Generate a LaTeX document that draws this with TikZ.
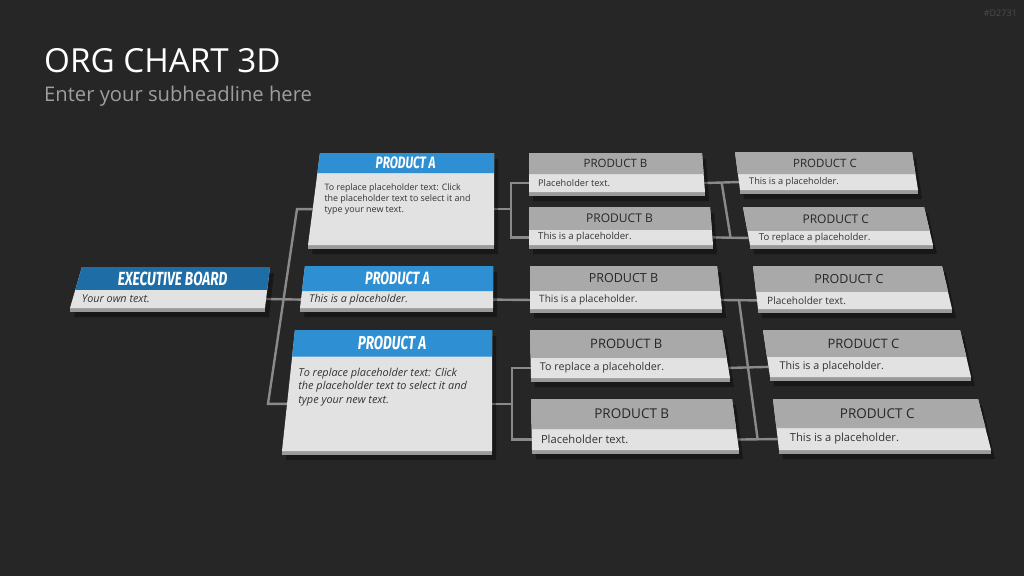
\documentclass[tikz,border=0pt]{standalone}
\usepackage{fontspec}
\setmainfont{Open Sans}
\newfontfamily\headfont[FakeStretch=0.72]{Fira Sans}
\usetikzlibrary{calc,positioning}

\definecolor{bgdark}{HTML}{262626}
\definecolor{execblue}{HTML}{1F6DA6}
\definecolor{prodblue}{HTML}{2E8FD2}
\definecolor{headgray}{HTML}{A9A9A9}
\definecolor{bodygray}{HTML}{E2E2E2}
\definecolor{sidegray}{HTML}{9A9A9A}
\definecolor{linkgray}{HTML}{8A8A8A}
\definecolor{textdark}{HTML}{333333}

% corner points of one card: name, top left, top right, bottom right, bottom left, header share
\newcommand{\orgcard}[6]{%
  \coordinate (#1-tl) at #2;
  \coordinate (#1-tr) at #3;
  \coordinate (#1-br) at #4;
  \coordinate (#1-bl) at #5;
  \coordinate (#1-hl) at ($(#1-tl)!#6!(#1-bl)$);
  \coordinate (#1-hr) at ($(#1-tr)!#6!(#1-br)$);
  \coordinate (#1-w) at ($(#1-hl)!.5!(#1-bl)$);
  \coordinate (#1-e) at ($(#1-hr)!.5!(#1-br)$);
}
% the card itself: name, header colour
\newcommand{\drawcard}[2]{%
  \fill[cardshadow] ($(#1-tl)+(4,6)$) -- ($(#1-tr)+(4,6)$) -- ($(#1-br)+(4,9)$) -- ($(#1-bl)+(4,9)$) -- cycle;
  \fill[sidegray] (#1-bl) -- (#1-br) -- ($(#1-br)+(0,3.5)$) -- ($(#1-bl)+(0,3.5)$) -- cycle;
  \fill[bodygray] (#1-tl) -- (#1-tr) -- (#1-br) -- (#1-bl) -- cycle;
  \fill[#2] (#1-tl) -- (#1-tr) -- (#1-hr) -- (#1-hl) -- cycle;
}

\tikzset{
  link/.style={draw=linkgray, line width=2.4pt},
  cardshadow/.style={fill=black, opacity=0.35},
  headtxt/.style={text=white, inner sep=0, font=\headfont\bfseries\itshape\fontsize{#1}{#1}\selectfont},
  prodtxt/.style={text=black!85, inner sep=0, font=\fontsize{#1}{#1}\selectfont},
  bodytxt/.style={text=textdark, inner sep=0, anchor=west, font=\fontsize{#1}{#1}\selectfont},
  notetxt/.style 2 args={text=textdark, inner sep=0, anchor=north west, align=left, font=\fontsize{#1}{#2}\selectfont},
}

\begin{document}
\begin{tikzpicture}[x=1pt, y=-1pt]
  % Background
  \fill[bgdark] (0,0) rectangle (1024,576);
  \useasboundingbox (0,0) rectangle (1024,576);

  % Headline
  \node[anchor=base west, inner sep=0, text=white, font=\fontsize{33.2}{35}\selectfont] (title) at (44,72) {ORG CHART 3D};
  \node[anchor=base west, inner sep=0, text=white!62!black, font=\fontsize{20.2}{22}\selectfont] (subtitle) at (44,101) {Enter your subheadline here};
  \node[anchor=east, inner sep=0, text=white!30!black, font=\fontsize{9}{9}\selectfont] (code) at (1017,13) {\#D2731};

  % Card corners
  \orgcard{ex}{(82,267)}{(270,267)}{(265,308)}{(70,308)}{0.56}
  \orgcard{a1}{(320,153)}{(494,153)}{(494,245)}{(308,245)}{0.22}
  \orgcard{a2}{(305,266)}{(493,266)}{(493,308)}{(300,308)}{0.6}
  \orgcard{a3}{(295,330)}{(492,330)}{(492,451)}{(282,451)}{0.22}
  \orgcard{b1}{(529,153)}{(702,153)}{(705,192)}{(529,192)}{0.54}
  \orgcard{b2}{(529,207)}{(710,207)}{(713,245)}{(529,245)}{0.6}
  \orgcard{b3}{(530,266)}{(717,266)}{(722,309)}{(530,309)}{0.58}
  \orgcard{b4}{(530,330)}{(722,330)}{(730,378)}{(531,378)}{0.58}
  \orgcard{b5}{(531,399)}{(732,399)}{(739,450)}{(532,450)}{0.59}
  \orgcard{c1}{(735,152)}{(912,152)}{(918,190)}{(740,190)}{0.58}
  \orgcard{c2}{(743,207)}{(924,207)}{(933,245)}{(750,245)}{0.63}
  \orgcard{c3}{(753,266)}{(942,266)}{(952,309)}{(758,309)}{0.6}
  \orgcard{c4}{(763,330)}{(960,330)}{(971,377)}{(770,377)}{0.57}
  \orgcard{c5}{(773,399)}{(978,399)}{(991,450)}{(779,450)}{0.57}

  % Connectors
  \coordinate (tA-top) at (297,209);
  \coordinate (tA-bot) at (268,403);
  \draw[link] (a1-w) -- (a1-w -| tA-top) -- (a3-w -| tA-bot) -- (a3-w);
  \draw[link] (ex-e) -- (a2-w);
  \draw[link] (b1-w) -- ++(-18,0) coordinate (tB1) -- (tB1 |- b2-w) -- (b2-w);
  \draw[link] (a1-e) -- (a1-e -| tB1);
  \draw[link] (a2-e) -- (b3-w);
  \draw[link] (b4-w) -- ++(-19,0) coordinate (tB3) -- (tB3 |- b5-w) -- (b5-w);
  \draw[link] (a3-e) -- (a3-e -| tB3);
  \draw[link] (b1-e) -- (c1-w);
  \draw[link] (b2-e) -- (c2-w);
  \draw[link] ($(b1-e)!.5!(c1-w)$) -- ($(b2-e)!.5!(c2-w)$);
  \draw[link] (b3-e) -- (c3-w);
  \draw[link] (b4-e) -- (c4-w);
  \draw[link] (b5-e) -- (c5-w);
  \draw[link] ($(b3-e)!.5!(c3-w)$) -- ($(b5-e)!.5!(c5-w)$);

  % Cards
  \drawcard{ex}{execblue}
  \foreach \c in {a1,a2,a3} {\drawcard{\c}{prodblue}}
  \foreach \c in {b1,b2,b3,b4,b5,c1,c2,c3,c4,c5} {\drawcard{\c}{headgray}}

  % Card texts
  \node[headtxt=19] (ex-title) at ($(ex-hl)!.5!(ex-tr)$) {EXECUTIVE BOARD};
  \node[bodytxt=10.8, right=9pt of ex-w] (ex-text) {\textit{Your own text.}};

  \node[headtxt=16.5] (a1-title) at ($(a1-hl)!.5!(a1-tr)$) {PRODUCT A};
  \node[notetxt={8.9}{11}] (a1-text) at ($(a1-hl)+(7,10)$) {To replace placeholder text: Click\\the placeholder text to select it and\\type your new text.};
  \node[headtxt=17.8] (a2-title) at ($(a2-hl)!.5!(a2-tr)$) {PRODUCT A};
  \node[bodytxt=10.7, right=8pt of a2-w] (a2-text) {\textit{This is a placeholder.}};
  \node[headtxt=18.8] (a3-title) at ($(a3-hl)!.5!(a3-tr)$) {PRODUCT A};
  \node[notetxt={10.9}{13.5}] (a3-text) at ($(a3-hl)+(6,11)$) {\itshape To replace placeholder text: Click\\\itshape the placeholder text to select it and\\\itshape type your new text.};

  \node[prodtxt=11.5] (b1-title) at ($(b1-hl)!.5!(b1-tr)$) {PRODUCT B};
  \node[bodytxt=9.2, right=9pt of b1-w] (b1-text) {Placeholder text.};
  \node[prodtxt=12] (b2-title) at ($(b2-hl)!.5!(b2-tr)$) {PRODUCT B};
  \node[bodytxt=9.6, right=9pt of b2-w] (b2-text) {This is a placeholder.};
  \node[prodtxt=12.5] (b3-title) at ($(b3-hl)!.5!(b3-tr)$) {PRODUCT B};
  \node[bodytxt=10.1, right=9pt of b3-w] (b3-text) {This is a placeholder.};
  \node[prodtxt=13] (b4-title) at ($(b4-hl)!.5!(b4-tr)$) {PRODUCT B};
  \node[bodytxt=10.7, right=9pt of b4-w] (b4-text) {To replace a placeholder.};
  \node[prodtxt=13.5] (b5-title) at ($(b5-hl)!.5!(b5-tr)$) {PRODUCT B};
  \node[bodytxt=11.2, right=9pt of b5-w] (b5-text) {Placeholder text.};

  \node[prodtxt=11.5] (c1-title) at ($(c1-hl)!.5!(c1-tr)$) {PRODUCT C};
  \node[bodytxt=9.2, right=10pt of c1-w] (c1-text) {This is a placeholder.};
  \node[prodtxt=12] (c2-title) at ($(c2-hl)!.5!(c2-tr)$) {PRODUCT C};
  \node[bodytxt=9.6, right=10pt of c2-w] (c2-text) {To replace a placeholder.};
  \node[prodtxt=12.5] (c3-title) at ($(c3-hl)!.5!(c3-tr)$) {PRODUCT C};
  \node[bodytxt=10.1, right=10pt of c3-w] (c3-text) {Placeholder text.};
  \node[prodtxt=13] (c4-title) at ($(c4-hl)!.5!(c4-tr)$) {PRODUCT C};
  \node[bodytxt=10.7, right=11pt of c4-w] (c4-text) {This is a placeholder.};
  \node[prodtxt=13.5] (c5-title) at ($(c5-hl)!.5!(c5-tr)$) {PRODUCT C};
  \node[bodytxt=11.2, right=12pt of c5-w] (c5-text) {This is a placeholder.};
\end{tikzpicture}
\end{document}
